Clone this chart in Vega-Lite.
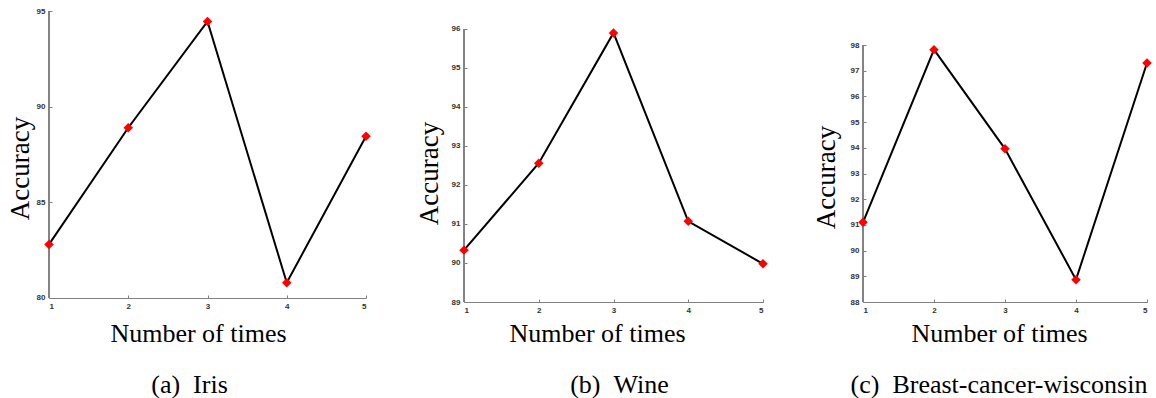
{
  "$schema": "https://vega.github.io/schema/vega-lite/v6.json",
  "padding": {"left": 6, "top": 7, "right": 0, "bottom": 0},
  "spacing": 44,
  "background": "white",
  "config": {
    "view": {"stroke": null},
    "axis": {
      "grid": false,
      "domainColor": "#808080",
      "tickColor": "#808080",
      "tickSize": -3,
      "labelPadding": 7,
      "labelFont": "Liberation Sans",
      "labelFontSize": 8,
      "labelFontWeight": "bold",
      "labelColor": "#333333",
      "titleFont": "Liberation Serif",
      "titleFontWeight": "normal",
      "titleColor": "#000000"
    },
    "axisY": {"titleFontSize": 27, "domain": false},
    "axisX": {"titleFontSize": 26, "titlePadding": 6},
    "title": {"font": "Liberation Serif", "fontWeight": "normal", "color": "#000000", "fontSize": 26, "orient": "bottom", "anchor": "middle", "offset": 26}
  },
  "datasets": {
    "iris": [
      {"run": 1, "accuracy": 82.8},
      {"run": 2, "accuracy": 88.9},
      {"run": 3, "accuracy": 94.45},
      {"run": 4, "accuracy": 80.8},
      {"run": 5, "accuracy": 88.45}
    ],
    "wine": [
      {"run": 1, "accuracy": 90.33},
      {"run": 2, "accuracy": 92.56},
      {"run": 3, "accuracy": 95.9},
      {"run": 4, "accuracy": 91.07},
      {"run": 5, "accuracy": 89.98}
    ],
    "bc": [
      {"run": 1, "accuracy": 91.1},
      {"run": 2, "accuracy": 97.82},
      {"run": 3, "accuracy": 93.96},
      {"run": 4, "accuracy": 88.87},
      {"run": 5, "accuracy": 97.3}
    ]
  },
  "hconcat": [
    {
      "width": 317,
      "height": 291,
      "title": {"text": "(a)\u00a0\u00a0Iris", "dx": -18},
      "data": {"name": "iris"},
      "encoding": {
        "x": {"field": "run", "type": "quantitative", "scale": {"domain": [1, 5], "nice": false, "zero": false}, "axis": {"values": [1, 2, 3, 4, 5], "format": "d", "title": "Number of times", "offset": -4, "titlePadding": 10, "titleX": 149}},
        "y": {"field": "accuracy", "type": "quantitative", "scale": {"domain": [79.79, 95], "nice": false, "zero": false}, "axis": {"values": [80, 85, 90, 95], "title": "Accuracy", "titlePadding": 2, "titleY": 157}}
      },
      "layer": [
        {"mark": {"type": "rule", "color": "#808080", "strokeWidth": 1}, "encoding": {"x": {"datum": 1}, "y": {"datum": 80}, "y2": {"datum": 95}}},
        {"mark": {"type": "line", "color": "black", "strokeWidth": 2}},
        {"mark": {"type": "point", "shape": "diamond", "filled": true, "color": "red", "size": 90, "opacity": 1}}
      ]
    },
    {
      "width": 299,
      "height": 291,
      "title": {"text": "(b)\u00a0\u00a0Wine", "dx": 6},
      "data": {"name": "wine"},
      "encoding": {
        "x": {"field": "run", "type": "quantitative", "scale": {"domain": [1, 5], "nice": false, "zero": false}, "axis": {"values": [1, 2, 3, 4, 5], "format": "d", "title": "Number of times", "titleX": 133}},
        "y": {"field": "accuracy", "type": "quantitative", "scale": {"domain": [89, 96.4615], "nice": false, "zero": false}, "axis": {"values": [89, 90, 91, 92, 93, 94, 95, 96], "title": "Accuracy", "titlePadding": 8, "titleY": 162}}
      },
      "layer": [
        {"mark": {"type": "rule", "color": "#808080", "strokeWidth": 1}, "encoding": {"x": {"datum": 1}, "y": {"datum": 89}, "y2": {"datum": 96}}},
        {"mark": {"type": "line", "color": "black", "strokeWidth": 2}},
        {"mark": {"type": "point", "shape": "diamond", "filled": true, "color": "red", "size": 90, "opacity": 1}}
      ]
    },
    {
      "width": 284,
      "height": 291,
      "title": {"text": "(c)\u00a0\u00a0Breast-cancer-wisconsin", "dx": -6},
      "data": {"name": "bc"},
      "encoding": {
        "x": {"field": "run", "type": "quantitative", "scale": {"domain": [1, 5], "nice": false, "zero": false}, "axis": {"values": [1, 2, 3, 4, 5], "format": "d", "title": "Number of times", "titleX": 136}},
        "y": {"field": "accuracy", "type": "quantitative", "scale": {"domain": [88, 99.323], "nice": false, "zero": false}, "axis": {"values": [88, 89, 90, 91, 92, 93, 94, 95, 96, 97, 98], "title": "Accuracy", "titlePadding": 9.5, "titleY": 166}}
      },
      "layer": [
        {"mark": {"type": "rule", "color": "#808080", "strokeWidth": 1}, "encoding": {"x": {"datum": 1}, "y": {"datum": 88}, "y2": {"datum": 98}}},
        {"mark": {"type": "line", "color": "black", "strokeWidth": 2}},
        {"mark": {"type": "point", "shape": "diamond", "filled": true, "color": "red", "size": 90, "opacity": 1}}
      ]
    }
  ]
}
